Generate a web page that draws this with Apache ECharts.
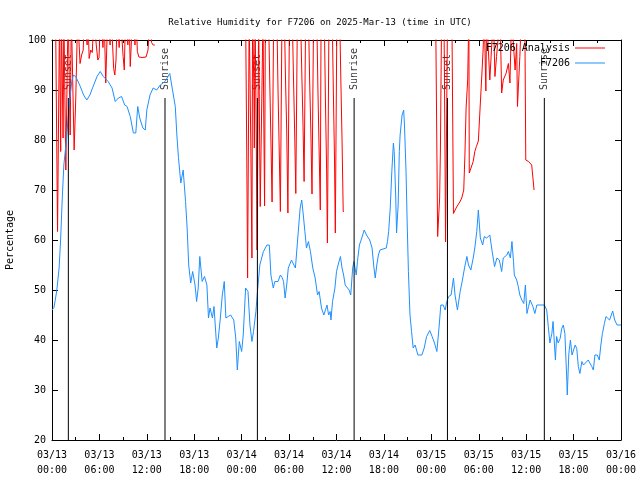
<!DOCTYPE html>
<html><head><meta charset="utf-8">
<script src="https://cdn.jsdelivr.net/npm/echarts/dist/echarts.min.js"></script>
<style>html,body{margin:0;padding:0;background:#fff}#chart{width:640px;height:480px}</style>
</head><body><div id="chart"></div>
<script>
// Hours since 2025-03-13 00:00 UTC
const blueHours = [0,0.25,0.6,0.9,1.1,1.3,1.5,1.85,2.06,2.3,2.5,2.7,3.0,3.5,4.0,4.4,4.8,5.2,5.7,6.1,6.5,7.1,7.6,8.0,8.4,8.8,9.2,9.5,9.9,10.3,10.6,10.85,11.1,11.5,11.8,12.0,12.4,12.8,13.25,13.7,14.3,14.9,15.15,15.6,15.8,16.0,16.3,16.6,16.75,16.9,17.1,17.3,17.55,17.8,18.1,18.3,18.5,18.7,19.0,19.3,19.6,19.8,20.0,20.3,20.5,20.85,21.05,21.3,21.55,21.8,22.0,22.3,22.6,23.0,23.25,23.45,23.7,24.0,24.2,24.5,24.8,25.05,25.3,25.5,25.8,26.0,26.3,26.75,27.2,27.5,27.7,28.0,28.2,28.6,28.9,29.15,29.3,29.5,29.7,29.9,30.3,30.8,31.0,31.2,31.4,31.6,31.8,32.0,32.2,32.45,32.7,33.0,33.3,33.6,33.8,34.1,34.4,34.8,35.0,35.2,35.3,35.5,35.8,36.0,36.2,36.5,36.7,36.9,37.1,37.3,37.6,37.8,38.05,38.2,38.5,38.65,38.9,39.2,39.5,39.8,40.2,40.5,40.7,40.9,41.1,41.3,41.5,41.7,42.3,42.45,42.6,42.8,43.0,43.2,43.3,43.5,43.6,43.8,43.95,44.05,44.3,44.5,44.6,44.8,44.95,45.1,45.3,45.5,45.7,45.95,46.3,46.8,47.1,47.4,47.8,48.1,48.4,48.7,49.0,49.2,49.5,49.75,49.95,50.2,50.5,50.8,51.0,51.3,51.65,51.9,52.2,52.5,52.7,53.0,53.3,53.5,53.75,53.95,54.2,54.5,54.7,55.0,55.4,55.7,56.0,56.3,56.6,56.9,57.1,57.55,57.75,58.0,58.2,58.4,58.5,58.8,59.0,59.2,59.45,59.7,59.9,60.1,60.3,60.5,60.85,61.1,61.35,62.3,62.6,62.8,63.0,63.25,63.4,63.7,63.85,64.05,64.3,64.5,64.7,64.9,65.15,65.2,65.4,65.6,65.8,66.0,66.2,66.4,66.6,66.8,67.05,67.25,67.5,67.85,68.05,68.3,68.5,68.7,69.0,69.25,69.45,69.65,69.9,70.1,70.35,70.55,70.75,70.95,71.2,71.5,72.0];
const blueValues = [46,46.5,49.8,54.4,60.4,68.4,75,80.4,85,89,91.7,93,92.7,91,89,88,89,90.7,92.7,93.7,92.7,91.7,90.4,87.7,88.4,88.7,87,86.7,84.7,81.4,81.4,86.7,84.4,82.4,82,86,89,90.4,90,91,91.7,93.3,93,86.7,81,76.5,71.4,74,73.7,67.7,62.4,55,51.4,53.7,51,47.7,50.4,56.7,51.7,52.7,51,44.4,46.4,44.4,46.7,38.4,40.4,44.4,49,51.7,44.4,44.7,45,44,40.4,34,39.7,37.7,41,50.4,49.7,43,39.7,41.7,45.7,49.7,55,57.7,59,59,53,50.4,51.7,51.7,53,52.4,51.7,48.4,51,54.4,56,54.4,58.4,62.4,66.4,68,65,61.7,58.4,59.7,57.7,54.4,52.4,49,49.7,46.4,45,47,45,45.7,44,47.7,50.4,53.7,55,56.7,54.4,53,51,51,50,49,54.4,55.7,53,55.7,59,60.4,62,61,60,58.4,55,52.4,55,57,58,58.4,58.4,59.7,61.7,66.4,73.7,79.4,77.7,68.4,61.4,67,77.7,81,85,86,83,73.7,63,53.7,45,41.7,38.4,39,37,37,38.4,40.7,41.9,40.7,39.4,37.7,43,47,47,46,47.7,48.7,49,52.4,49,46,49.7,51.7,54.4,56.7,55,54,56.4,58.4,61.7,66,60.4,59,60.7,60.4,61,57.7,54.7,56.4,56,53.7,56.4,57,57.7,56.4,59.7,55.7,53,52,50.7,49,48,47.3,51,45.3,46.7,48,46.7,45.3,47,47,46,42.7,39.4,41.3,43.7,36,40.7,39.4,40.3,42.3,43,41.3,31.7,29,37.3,40,37,37,39,38.3,34.7,33.3,35.7,35,35,36,35.7,34.7,34,37,37,36,39,41.3,43.3,44.7,44.8,44,44,45.8,44,43,43];

// Analysis series (values above 100 are clipped by the frame; null = no data)
const redHours = [0.45,0.7,0.85,0.95,1.1,1.2,1.4,1.5,1.75,1.85,1.95,2.05,2.3,2.45,2.8,2.9,3.0,3.1,3.25,3.55,3.75,3.95,4.1,4.45,4.55,4.7,4.9,5.1,5.3,5.6,5.8,5.95,6.15,6.45,6.6,6.8,6.9,7.05,7.35,7.5,7.8,7.95,8.1,8.25,8.5,8.65,9.0,9.15,9.3,9.6,9.75,9.9,10.05,10.2,10.5,10.65,10.8,11.0,11.4,11.9,12.15,12.4,12.6,12.8,13.0,
 18,
 24.5,24.65,24.75,24.85,24.95,25.15,25.3,25.38,25.55,25.6,25.7,25.85,25.95,26.05,26.15,26.25,26.35,26.5,26.7,26.8,26.9,27.0,27.4,27.55,27.7,27.85,27.95,28.05,28.45,28.6,28.75,28.9,29.0,29.1,29.4,29.55,29.7,29.85,29.95,30.05,30.4,30.55,30.7,30.85,30.95,31.05,31.45,31.6,31.75,31.9,32.0,32.1,32.45,32.6,32.75,32.9,33.0,33.1,33.5,33.65,33.8,33.95,34.05,34.45,34.6,34.75,34.85,34.95,35.05,35.45,35.6,35.75,35.85,35.95,36.05,36.4,36.55,36.7,36.85,36.95,
 43,
 48.55,48.8,49.0,49.05,49.15,49.3,49.6,49.7,49.8,49.95,50.05,50.6,50.8,50.9,51.0,51.2,51.6,51.85,52.05,52.1,52.25,52.4,52.6,52.75,52.8,53.0,53.3,53.5,53.7,53.95,54.15,54.35,54.55,54.7,54.9,55.0,55.4,55.85,56.05,56.25,56.7,56.9,57.1,57.45,57.75,57.95,58.15,58.6,58.8,58.9,59.2,59.4,59.85,59.95,60.3,60.7,60.9,61.0];
const redValues = [105,61.7,61.7,105,77.7,105,80.4,105,74,74,96.7,105,81,105,78,78,88,88,105,95.3,97,98,105,99,105,96.3,98,97.5,105,99,96,96.5,105,98.5,105,91.4,91.4,105,99,105,94.3,93,96,105,98.5,105,96.7,94,105,99,105,94.7,94.7,105,99,105,97.7,96.6,96.5,96.6,98,105,99.5,99,99,
 null,
 105,76,52.4,52.4,105,80,56.4,105,90,78.4,105,80,58,58,105,84,66.7,66.7,105,84,66.8,105,105,92,80,67.6,67.6,105,105,90,78,65.7,65.7,105,105,92,82,65.4,65.4,105,105,93,82,69.3,69.3,105,105,94,84,71.7,71.7,105,105,92,82,69.2,69.2,105,105,90,78,66,105,105,88,74,59.4,59.4,105,105,90,76,61.4,61.4,105,105,92,80,65.7,65.7,
 null,
 105,60.7,60.7,68.4,78,105,105,84,59.6,59.6,105,105,65.3,65.3,65.6,66.6,67.6,68.4,68,70,77,86.4,92,105,73.4,73.7,75.7,77.7,78.7,79.8,85.8,91.8,98,105,89.8,105,92,105,92.7,96.7,105,89.4,92,93.3,95.3,91.4,105,94,99.3,86.7,96.7,105,100,76,75.7,75,74.7,70];

const sunHours = [2.07, 14.3, 25.99, 38.23, 50.04, 62.3];
const sunNames = ['Sunset', 'Sunrise', 'Sunset', 'Sunrise', 'Sunset', 'Sunrise'];
const xTickLabels = ['03/13\n00:00','03/13\n06:00','03/13\n12:00','03/13\n18:00','03/14\n00:00','03/14\n06:00','03/14\n12:00','03/14\n18:00','03/15\n00:00','03/15\n06:00','03/15\n12:00','03/15\n18:00','03/16\n00:00'];

const FONT = 'DejaVu Sans Mono';
const SUN_LINE_TOP = 88.4, SUN_LABEL_AT = 89.6;

const pair = (xs, ys) => xs.map((h, i) => [h, ys[i] === null ? '-' : ys[i]]);
const sunLineData = [];
sunHours.forEach(h => { sunLineData.push([h, SUN_LINE_TOP], [h, 20], [h, '-']); });

const axisCommon = {
  type: 'value', splitLine: {show: false},
  axisLine: {show: true, onZero: false, lineStyle: {color: '#000', width: 1}},
  axisTick: {show: true, inside: true, length: 6, lineStyle: {color: '#000'}}
};

const chart = echarts.init(document.getElementById('chart'), null, {renderer: 'canvas'});
chart.setOption({
  animation: false,
  backgroundColor: '#fff',
  title: {text: 'Relative Humidity for F7206 on 2025-Mar-13 (time in UTC)', left: 'center', top: 13,
    textStyle: {fontFamily: FONT, fontSize: 9, fontWeight: 'normal', color: '#000'}},
  legend: {data: ['F7206 Analysis', 'F7206'], orient: 'vertical', right: 30, top: 37, align: 'right',
    icon: 'rect', itemWidth: 30, itemHeight: 1, itemGap: 3, selectedMode: false,
    textStyle: {fontFamily: FONT, fontSize: 10, color: '#000', lineHeight: 12}},
  grid: {left: 52, right: 19, top: 40, bottom: 40, containLabel: false, outerBoundsMode: 'none'},
  xAxis: [
    Object.assign({}, axisCommon, {min: 0, max: 72, interval: 6, position: 'bottom',
      minorTick: {show: true, splitNumber: 2, length: 3, lineStyle: {color: '#000'}},
      axisLabel: {formatter: v => xTickLabels[Math.round(v / 6)], fontFamily: FONT, fontSize: 10, color: '#000', lineHeight: 15, margin: 8}}),
    Object.assign({}, axisCommon, {min: 0, max: 72, interval: 6, position: 'top',
      minorTick: {show: true, splitNumber: 2, length: 3, lineStyle: {color: '#000'}},
      axisLabel: {show: false}})
  ],
  yAxis: [
    Object.assign({}, axisCommon, {min: 20, max: 100, interval: 10, position: 'left',
      name: 'Percentage', nameLocation: 'middle', nameGap: 37, nameRotate: 90,
      nameTextStyle: {fontFamily: FONT, fontSize: 10, color: '#000'},
      axisLabel: {fontFamily: FONT, fontSize: 10, color: '#000', margin: 6}}),
    Object.assign({}, axisCommon, {min: 20, max: 100, interval: 10, position: 'right', axisLabel: {show: false}})
  ],
  series: [
    {name: 'F7206 Analysis', type: 'line', data: pair(redHours, redValues), showSymbol: false, clip: true,
      lineStyle: {color: '#ff0000', width: 1}, itemStyle: {color: '#ff0000'}, silent: true},
    {name: 'F7206', type: 'line', data: pair(blueHours, blueValues), showSymbol: false, clip: true,
      lineStyle: {color: '#1e90ff', width: 1}, itemStyle: {color: '#1e90ff'}, silent: true},
    {name: 'sun', type: 'line', data: sunLineData, showSymbol: false, clip: true,
      lineStyle: {color: '#000', width: 1}, itemStyle: {color: '#000'}, silent: true},
    {name: 'sunLabels', type: 'scatter', symbolSize: 1, itemStyle: {color: 'rgba(0,0,0,0)'}, silent: true,
      data: sunHours.map((h, i) => ({value: [h, SUN_LABEL_AT], name: sunNames[i]})),
      label: {show: true, formatter: '{b}', rotate: 90, position: 'inside', align: 'left', verticalAlign: 'middle',
        offset: [2, 0], fontFamily: FONT, fontSize: 10, color: '#000'}}
  ]
});
</script></body></html>
